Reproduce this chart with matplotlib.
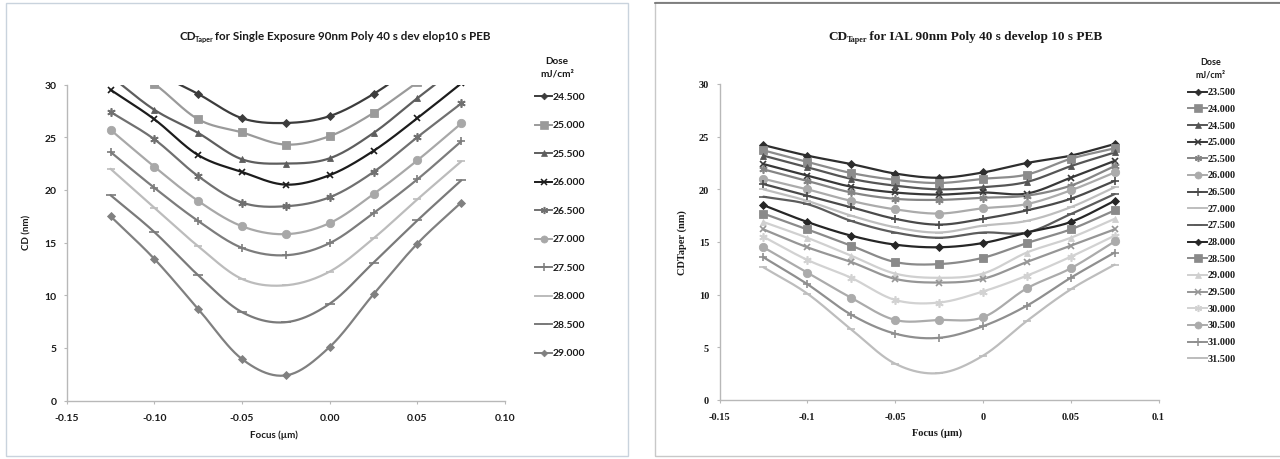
import numpy as np
import matplotlib
matplotlib.use("Agg")
import matplotlib.pyplot as plt
from matplotlib.lines import Line2D
from matplotlib.patches import Rectangle

# ---------------- data ----------------
focus = [-0.125, -0.1, -0.075, -0.05, -0.025, 0.0, 0.025, 0.05, 0.075]

# Left chart: single exposure (dose mJ/cm2 -> CD taper nm)
se_doses = ["24.500", "25.000", "25.500", "26.000", "26.500",
            "27.000", "27.500", "28.000", "28.500", "29.000"]
se_24500 = [33.5, 31.2, 29.1, 26.8, 26.35, 27.0, 29.1, 32.0, 35.0]
se_25000 = [32.5, 30.05, 26.7, 25.45, 24.3, 25.1, 27.3, 30.2, 33.0]
se_25500 = [30.8, 27.6, 25.4, 22.9, 22.5, 23.0, 25.4, 28.7, 31.9]
se_26000 = [29.5, 26.7, 23.3, 21.7, 20.5, 21.4, 23.7, 26.8, 30.1]
se_26500 = [27.4, 24.8, 21.3, 18.8, 18.45, 19.3, 21.7, 25.0, 28.2]
se_27000 = [25.7, 22.2, 18.95, 16.55, 15.8, 16.85, 19.6, 22.8, 26.3]
se_27500 = [23.6, 20.2, 17.05, 14.5, 13.8, 14.95, 17.8, 21.0, 24.6]
se_28000 = [22.0, 18.3, 14.65, 11.55, 10.95, 12.25, 15.4, 19.1, 22.7]
se_28500 = [19.5, 16.0, 11.9, 8.4, 7.45, 9.2, 13.1, 17.1, 20.9]
se_29000 = [17.5, 13.45, 8.7, 3.95, 2.4, 5.1, 10.1, 14.9, 18.8]
se_series = [se_24500, se_25000, se_25500, se_26000, se_26500,
             se_27000, se_27500, se_28000, se_28500, se_29000]

# Right chart: IAL
ial_doses = ["23.500", "24.000", "24.500", "25.000", "25.500", "26.000",
             "26.500", "27.000", "27.500", "28.000", "28.500", "29.000",
             "29.500", "30.000", "30.500", "31.000", "31.500"]
ial_23500 = [24.2, 23.2, 22.4, 21.5, 21.1, 21.6, 22.5, 23.2, 24.3]
ial_24000 = [23.7, 22.6, 21.55, 20.9, 20.6, 21.0, 21.4, 22.9, 23.9]
ial_24500 = [23.2, 22.1, 21.0, 20.35, 20.0, 20.2, 20.7, 22.2, 23.5]
ial_25000 = [22.4, 21.3, 20.25, 19.7, 19.5, 19.7, 19.6, 21.1, 22.7]
ial_25500 = [21.9, 20.8, 19.7, 19.1, 19.0, 19.2, 19.4, 20.35, 22.2]
ial_26000 = [21.0, 20.0, 18.9, 18.1, 17.7, 18.2, 18.6, 19.9, 21.6]
ial_26500 = [20.5, 19.4, 18.3, 17.2, 16.65, 17.2, 18.0, 19.1, 20.8]
ial_27000 = [20.0, 18.9, 17.5, 16.4, 15.9, 16.55, 17.0, 18.3, 20.2]
ial_27500 = [19.3, 18.6, 17.0, 15.9, 15.4, 15.9, 15.9, 17.65, 19.55]
ial_28000 = [18.5, 16.9, 15.6, 14.75, 14.5, 14.9, 15.9, 16.9, 18.9]
ial_28500 = [17.7, 16.2, 14.65, 13.1, 12.9, 13.5, 14.9, 16.2, 18.0]
ial_29000 = [16.9, 15.4, 13.7, 12.0, 11.6, 12.0, 14.0, 15.4, 17.2]
ial_29500 = [16.2, 14.5, 13.1, 11.5, 11.15, 11.5, 13.1, 14.65, 16.2]
ial_30000 = [15.5, 13.3, 11.6, 9.5, 9.25, 10.3, 11.8, 13.6, 15.6]
ial_30500 = [14.5, 12.1, 9.7, 7.6, 7.6, 7.85, 10.6, 12.5, 15.05]
ial_31000 = [13.55, 11.0, 8.1, 6.3, 5.9, 7.0, 8.95, 11.6, 14.0]
ial_31500 = [12.6, 10.1, 6.7, 3.45, 2.55, 4.2, 7.5, 10.5, 12.85]
ial_series = [ial_23500, ial_24000, ial_24500, ial_25000, ial_25500,
              ial_26000, ial_26500, ial_27000, ial_27500, ial_28000,
              ial_28500, ial_29000, ial_29500, ial_30000, ial_30500,
              ial_31000, ial_31500]

left_xticks = [-0.15, -0.10, -0.05, 0.00, 0.05, 0.10]
left_xticklabels = ["-0.15", "-0.10", "-0.05", "0.00", "0.05", "0.10"]
right_xticklabels = ["-0.15", "-0.1", "-0.05", "0", "0.05", "0.1"]
yticks = [0, 5, 10, 15, 20, 25, 30]

# ---------------- styles ----------------
STAR = (6, 2, 0)
se_styles = [
    ("#3c3c3c", "D", 4.0), ("#9a9a9a", "s", 6.0), ("#5e5e5e", "^", 5.0),
    ("#1c1c1c", "x", 5.0), ("#707070", STAR, 6.0), ("#a8a8a8", "o", 6.0),
    ("#7c7c7c", "+", 6.0), ("#bcbcbc", "_", 6.0), ("#7a7a7a", "_", 7.0),
    ("#808080", "D", 4.0),
]
ial_styles = [
    ("#2e2e2e", "D", 4.0), ("#8c8c8c", "s", 6.0), ("#555555", "^", 5.0),
    ("#383838", "x", 5.0), ("#858585", STAR, 6.0), ("#ababab", "o", 6.0),
    ("#4a4a4a", "+", 6.0), ("#bebebe", "_", 6.0), ("#5c5c5c", "_", 6.0),
    ("#262626", "D", 4.0), ("#8a8a8a", "s", 6.0), ("#d0d0d0", "^", 5.0),
    ("#969696", "x", 5.0), ("#d2d2d2", STAR, 6.0), ("#ababab", "o", 6.0),
    ("#8f8f8f", "+", 6.0), ("#bdbdbd", "_", 6.0),
]

W, H = 1280, 460
fig = plt.figure(figsize=(W / 100, H / 100), dpi=100)
fig.patch.set_facecolor("white")

SANS = ["Lato", "DejaVu Sans"]
SERIF = ["Liberation Serif", "DejaVu Serif"]


def fx(px):
    return px / W


def fy(py):
    return 1 - py / H


def smooth(x, y, n=24):
    pts = np.column_stack([x, y]).astype(float)
    p = np.vstack([2 * pts[0] - pts[1], pts, 2 * pts[-1] - pts[-2]])
    out = []
    t = np.linspace(0, 1, n, endpoint=False)[:, None]
    for i in range(1, len(p) - 2):
        p0, p1, p2, p3 = p[i - 1], p[i], p[i + 1], p[i + 2]
        seg = 0.5 * (2 * p1 + (-p0 + p2) * t + (2 * p0 - 5 * p1 + 4 * p2 - p3) * t ** 2
                     + (-p0 + 3 * p1 - 3 * p2 + p3) * t ** 3)
        out.append(seg)
    out.append(pts[-1:])
    a = np.vstack(out)
    return a[:, 0], a[:, 1]


# panel frames
fig.add_artist(Rectangle((fx(6), fy(457)), fx(622), 453 / H, transform=fig.transFigure,
                         fill=False, edgecolor="#c9d3dd", lw=1.0))
fig.add_artist(Rectangle((fx(655), fy(457)), fx(630), 454 / H, transform=fig.transFigure,
                         fill=False, edgecolor="#c8c8c8", lw=1.0))
fig.add_artist(Line2D([fx(655), 1], [fy(3.5), fy(3.5)], transform=fig.transFigure,
                      color="#707070", lw=1.2))

renderer = fig.canvas.get_renderer()


def sub_title(cx, cy, main, sub, rest, family, size):
    kw = dict(family=family, weight="bold", color="#1a1a1a", va="center", ha="left")
    t1 = fig.text(0, fy(cy), main, fontsize=size, **kw)
    t2 = fig.text(0, fy(cy + 3), sub, fontsize=size * 0.62, **kw)
    t3 = fig.text(0, fy(cy), rest, fontsize=size, **kw)
    w1 = t1.get_window_extent(renderer).width
    w2 = t2.get_window_extent(renderer).width
    w3 = t3.get_window_extent(renderer).width
    x0 = cx - (w1 + w2 + w3) / 2
    t1.set_x(fx(x0))
    t2.set_x(fx(x0 + w1 - 0.5))
    t3.set_x(fx(x0 + w1 + w2 - 2))


def setup_axes(ax, family, xtl, tsize):
    ax.set_xlim(-0.15, 0.10)
    ax.set_ylim(0, 30)
    ax.set_xticks(left_xticks)
    ax.set_xticklabels(xtl)
    ax.set_yticks(yticks)
    for s in ("top", "right"):
        ax.spines[s].set_visible(False)
    for s in ("left", "bottom"):
        ax.spines[s].set_color("#b8b8b8")
        ax.spines[s].set_linewidth(1.0)
    ax.tick_params(axis="both", direction="out", length=2.5, width=0.8, color="#b8b8b8",
                   labelsize=tsize, labelcolor="#1a1a1a")
    ax.tick_params(axis="x", pad=6)
    ax.tick_params(axis="y", pad=5)
    for lab in ax.get_xticklabels() + ax.get_yticklabels():
        lab.set_family(family)
        lab.set_weight("bold")


def draw_series(ax, series, styles, lw):
    for ys, (c, m, ms) in zip(series, styles):
        sx, sy = smooth(focus, ys)
        ax.plot(sx, sy, color=c, lw=lw, solid_capstyle="round", zorder=2)
        ax.plot(focus, ys, ls="none", marker=m, ms=ms, color=c, mec=c,
                mew=1.2 if m in ("x", "+", "_", STAR) else 0.6, zorder=3)


def draw_legend(x1, x2, ytop, dy, labels, styles, family, size, lw):
    for i, (lab, (c, m, ms)) in enumerate(zip(labels, styles)):
        yy = fy(ytop + i * dy)
        fig.add_artist(Line2D([fx(x1), fx(x2)], [yy, yy], transform=fig.transFigure,
                              color=c, lw=lw))
        fig.add_artist(Line2D([fx((x1 + x2) / 2)], [yy], transform=fig.transFigure,
                              ls="none", marker=m, ms=ms * 0.85, color=c, mec=c,
                              mew=1.1 if m in ("x", "+", "_", STAR) else 0.5))
        fig.text(fx(x2 + 1), yy, lab, family=family, weight="bold", fontsize=size,
                 color="#1a1a1a", va="center", ha="left")


# ---------------- left chart ----------------
axL = fig.add_axes([fx(66.7), fy(401.7), fx(505 - 66.7), (401.7 - 85.5) / H])
draw_series(axL, se_series, se_styles, 1.6)
setup_axes(axL, SANS, left_xticklabels, 7.5)
fig.text(fx(27), fy(232), "CD (nm)", rotation=90, family=SANS, weight="bold",
         fontsize=7, color="#1a1a1a", ha="center", va="center")
fig.text(fx(274), fy(435), "Focus (\u00b5m)", family=SANS, weight="bold",
         fontsize=7, color="#1a1a1a", ha="center", va="center")
sub_title(336, 37, "CD", "Taper",
          " for Single Exposure 90nm Poly 40 s dev elop10 s PEB", SANS, 8.4)
fig.text(fx(557), fy(61.5), "Dose", family=SANS, weight="bold", fontsize=7.2,
         color="#1a1a1a", ha="center", va="center")
fig.text(fx(557), fy(74), "mJ/cm\u00b2", family=SANS, weight="bold", fontsize=7.2,
         color="#1a1a1a", ha="center", va="center")
draw_legend(535, 552, 97.3, 28.5, se_doses, se_styles, SANS, 7.5, 1.4)

# ---------------- right chart ----------------
axR = fig.add_axes([fx(719.5), fy(401), fx(1158.5 - 719.5), (401 - 85) / H])
draw_series(axR, ial_series, ial_styles, 1.6)
setup_axes(axR, SERIF, right_xticklabels, 7.5)
fig.text(fx(682), fy(243), "CDTaper (nm)", rotation=90, family=SERIF, weight="bold",
         fontsize=7.5, color="#1a1a1a", ha="center", va="center")
fig.text(fx(937), fy(433), "Focus (\u00b5m)", family=SERIF, weight="bold",
         fontsize=7.5, color="#1a1a1a", ha="center", va="center")
sub_title(966, 37, "CD", "Taper", " for IAL 90nm Poly 40 s develop 10 s PEB", SERIF, 9.5)
fig.text(fx(1211), fy(62.5), "Dose", family=SANS, weight="bold", fontsize=6.5,
         color="#1a1a1a", ha="center", va="center")
fig.text(fx(1211), fy(74.5), "mJ/cm\u00b2", family=SANS, weight="bold", fontsize=6.5,
         color="#1a1a1a", ha="center", va="center")
draw_legend(1188, 1207, 92.7, 16.66, ial_doses, ial_styles, SERIF, 7.3, 1.4)

fig.savefig("out.png", dpi=100, facecolor="white")
